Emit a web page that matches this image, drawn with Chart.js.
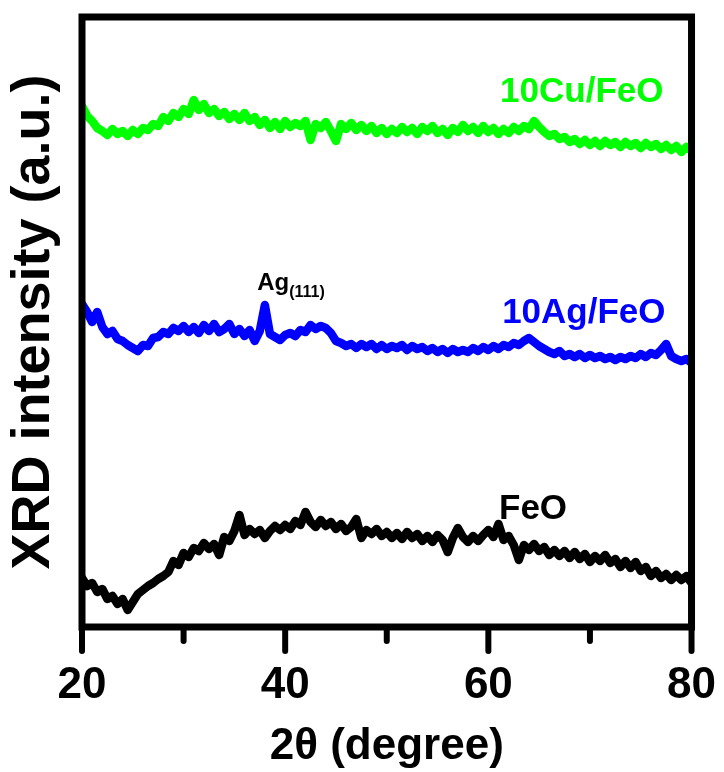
<!DOCTYPE html>
<html>
<head>
<meta charset="utf-8">
<title>XRD patterns</title>
<script src="https://cdn.jsdelivr.net/npm/chart.js@4.4.1/dist/chart.umd.min.js"></script>
<style>
  html, body { margin: 0; padding: 0; background: #fff; }
  #wrap { width: 724px; height: 772px; }
</style>
</head>
<body>
<div id="wrap"><canvas id="xrdChart" width="724" height="772"></canvas></div>
<script>
/* ---------------------------------------------------------------------------
                                   DATA
--------------------------------------------------------------------------- */
// 2theta grid (degree)
var twoTheta = [
    20, 20.5, 21, 21.5, 22, 22.5, 23, 23.5, 24, 24.5,
    25, 25.5, 26, 26.5, 27, 27.5, 28, 28.5, 29, 29.5,
    30, 30.5, 31, 31.5, 32, 32.5, 33, 33.5, 34, 34.5,
    35, 35.5, 36, 36.5, 37, 37.5, 38, 38.5, 39, 39.5,
    40, 40.5, 41, 41.5, 42, 42.5, 43, 43.5, 44, 44.5,
    45, 45.5, 46, 46.5, 47, 47.5, 48, 48.5, 49, 49.5,
    50, 50.5, 51, 51.5, 52, 52.5, 53, 53.5, 54, 54.5,
    55, 55.5, 56, 56.5, 57, 57.5, 58, 58.5, 59, 59.5,
    60, 60.5, 61, 61.5, 62, 62.5, 63, 63.5, 64, 64.5,
    65, 65.5, 66, 66.5, 67, 67.5, 68, 68.5, 69, 69.5,
    70, 70.5, 71, 71.5, 72, 72.5, 73, 73.5, 74, 74.5,
    75, 75.5, 76, 76.5, 77, 77.5, 78, 78.5, 79, 79.5,
    80
];

// intensities (a.u., curves already offset for stacking)
var cuFeO = [
    521, 511, 506, 499, 496, 492, 498, 493, 496, 491,
    497, 493, 499, 497, 503, 501, 510, 506, 514, 510,
    518, 513, 527, 517, 523, 514, 518, 511, 515, 508,
    513, 507, 514, 506, 510, 502, 507, 499, 505, 498,
    506, 500, 504, 501, 506, 487, 503, 499, 505, 496,
    486, 503, 498, 504, 497, 502, 496, 501, 494, 499,
    493, 498, 494, 500, 495, 499, 493, 500, 496, 501,
    494, 498, 492, 499, 495, 502, 496, 500, 494, 501,
    495, 499, 493, 498, 494, 500, 496, 501, 498, 506,
    500, 495, 491, 493, 488, 490, 485, 488, 483, 487,
    482, 486, 481, 486, 482, 485, 480, 485, 481, 484,
    479, 484, 480, 483, 478, 482, 477, 481, 475, 480,
    476
];

var agFeO = [
    323, 315, 305, 315, 300, 293, 296, 288, 286, 282,
    279, 276, 282, 281, 289, 290, 295, 293, 299, 296,
    301, 295, 300, 294, 302, 296, 303, 295, 298, 303,
    293, 298, 291, 297, 286, 296, 322, 293, 290, 287,
    292, 294, 291, 297, 295, 302, 298, 301, 299, 294,
    286, 284, 281, 283, 279, 283, 280, 283, 278, 282,
    278, 281, 279, 282, 277, 281, 278, 280, 276, 279,
    275, 278, 274, 278, 275, 277, 275, 279, 276, 280,
    277, 281, 278, 282, 280, 284, 282, 286, 289, 285,
    281, 278, 275, 273, 276, 271, 273, 270, 273, 269,
    272, 269, 271, 268, 270, 267, 270, 268, 271, 269,
    273, 270, 274, 272, 277, 283, 271, 268, 266, 268,
    264
];

var feO = [
    49, 41, 44, 35, 38, 28, 31, 23, 28, 17,
    25, 33, 37, 41, 44, 48, 51, 55, 66, 62,
    74, 70, 79, 76, 84, 78, 83, 72, 90, 86,
    96, 112, 92, 98, 93, 97, 89, 96, 101, 97,
    102, 98, 106, 102, 115, 105, 100, 107, 101, 105,
    98, 103, 96, 100, 108, 89, 97, 93, 98, 91,
    95, 89, 94, 88, 95, 89, 93, 86, 91, 85,
    92, 87, 75, 89, 99, 90, 85, 91, 86, 92,
    97, 90, 103, 87, 91, 82, 67, 82, 77, 83,
    76, 80, 72, 77, 71, 76, 69, 75, 68, 73,
    65, 71, 66, 72, 64, 68, 60, 66, 59, 65,
    56, 60, 51, 56, 49, 53, 47, 52, 47, 51,
    44
];

var xTicks = [20, 40, 60, 80];

/* ---------------------------------------------------------------------------
                                  SETTINGS
--------------------------------------------------------------------------- */
var FONT = '"Liberation Sans", Arial, sans-serif';
var GREEN = '#00ff00';
var BLUE = '#0000ff';
var BLACK = '#000000';

// curve names, placed in data coordinates
var curveLabels = [
    { text: '10Cu/FeO', color: GREEN, x: 69.2, y: 525 },
    { text: '10Ag/FeO', color: BLUE,  x: 69.4, y: 304 },
    { text: 'FeO',      color: BLACK, x: 64.4, y: 108 }
];

function toPoints(values) {
    return twoTheta.map(function (t, i) { return { x: t, y: values[i] }; });
}

function trace(label, values, color) {
    return {
        label: label,
        data: toPoints(values),
        borderColor: color,
        backgroundColor: color,
        borderWidth: 8.5,
        borderJoinStyle: 'round',
        borderCapStyle: 'round',
        pointRadius: 0,
        tension: 0,
        fill: false
    };
}

/* ---------------------------------------------------------------------------
                                  PLUGINS
--------------------------------------------------------------------------- */
// thick box around the plot + outward tick marks (major 20/40/60/80, minor between)
var frameBox = {
    id: 'frameBox',
    afterDatasetsDraw: function (chart) {
        var ctx = chart.ctx;
        var a = chart.chartArea;
        var xs = chart.scales.x;
        ctx.save();
        ctx.strokeStyle = BLACK;
        ctx.lineWidth = 7;
        ctx.strokeRect(a.left, a.top, a.right - a.left, a.bottom - a.top);
        ctx.lineWidth = 6;
        ctx.lineCap = 'round';
        xs.ticks.forEach(function (t) {
            var px = xs.getPixelForValue(t.value);
            var len = xTicks.indexOf(t.value) >= 0 ? 24 : 14;
            ctx.beginPath();
            ctx.moveTo(px, a.bottom);
            ctx.lineTo(px, a.bottom + len);
            ctx.stroke();
        });
        ctx.restore();
    }
};

// curve names and the Ag(111) reflection marker
var curveNames = {
    id: 'curveNames',
    afterDraw: function (chart) {
        var ctx = chart.ctx;
        var xs = chart.scales.x;
        var ys = chart.scales.y;
        ctx.save();
        ctx.textBaseline = 'alphabetic';
        ctx.textAlign = 'center';
        ctx.font = 'bold 35px ' + FONT;
        curveLabels.forEach(function (l) {
            ctx.fillStyle = l.color;
            ctx.fillText(l.text, xs.getPixelForValue(l.x), ys.getPixelForValue(l.y));
        });

        // Ag(111) with subscripted Miller index
        var ax = xs.getPixelForValue(37.25);
        var ay = ys.getPixelForValue(337);
        ctx.textAlign = 'left';
        ctx.fillStyle = BLACK;
        ctx.font = 'bold 24px ' + FONT;
        ctx.fillText('Ag', ax, ay);
        var w = ctx.measureText('Ag').width;
        ctx.font = 'bold 16px ' + FONT;
        ctx.fillText('(111)', ax + w, ay + 7);
        ctx.restore();
    }
};

/* ---------------------------------------------------------------------------
                                   CHART
--------------------------------------------------------------------------- */
var ctx = document.getElementById('xrdChart').getContext('2d');

var xrdChart = new Chart(ctx, {
    type: 'line',
    data: {
        datasets: [
            trace('10Cu/FeO', cuFeO, GREEN),
            trace('10Ag/FeO', agFeO, BLUE),
            trace('FeO', feO, BLACK)
        ]
    },
    options: {
        responsive: false,
        animation: false,
        events: [],
        layout: {
            padding: { top: 17, right: 30, left: 0, bottom: 0 }
        },
        plugins: {
            legend: { display: false },
            tooltip: { enabled: false }
        },
        scales: {
            x: {
                type: 'linear',
                min: 20,
                max: 80,
                grid: {
                    display: false,
                    drawTicks: true,
                    tickLength: 24
                },
                border: { display: false },
                ticks: {
                    stepSize: 10,
                    autoSkip: false,
                    maxRotation: 0,
                    padding: 8,
                    color: BLACK,
                    font: { family: FONT, size: 44, weight: 'bold', lineHeight: 1.2 },
                    callback: function (v) {
                        return xTicks.indexOf(v) >= 0 ? v : '';
                    }
                },
                title: {
                    display: true,
                    text: '2\u03b8 (degree)',
                    color: BLACK,
                    font: { family: FONT, size: 44, weight: 'bold', lineHeight: 1 },
                    padding: { top: 0, bottom: 3 }
                },
                afterFit: function (scale) { scale.height = 145; }
            },
            y: {
                min: 0,
                max: 610,
                grid: { display: false },
                border: { display: false },
                ticks: { display: false },
                title: {
                    display: true,
                    text: 'XRD intensity (a.u.)',
                    color: BLACK,
                    font: { family: FONT, size: 54, weight: 'bold', lineHeight: 1.2 },
                    padding: { top: 2, bottom: 0 }
                },
                afterFit: function (scale) { scale.width = 82; }
            }
        }
    },
    plugins: [frameBox, curveNames]
});
</script>
</body>
</html>
